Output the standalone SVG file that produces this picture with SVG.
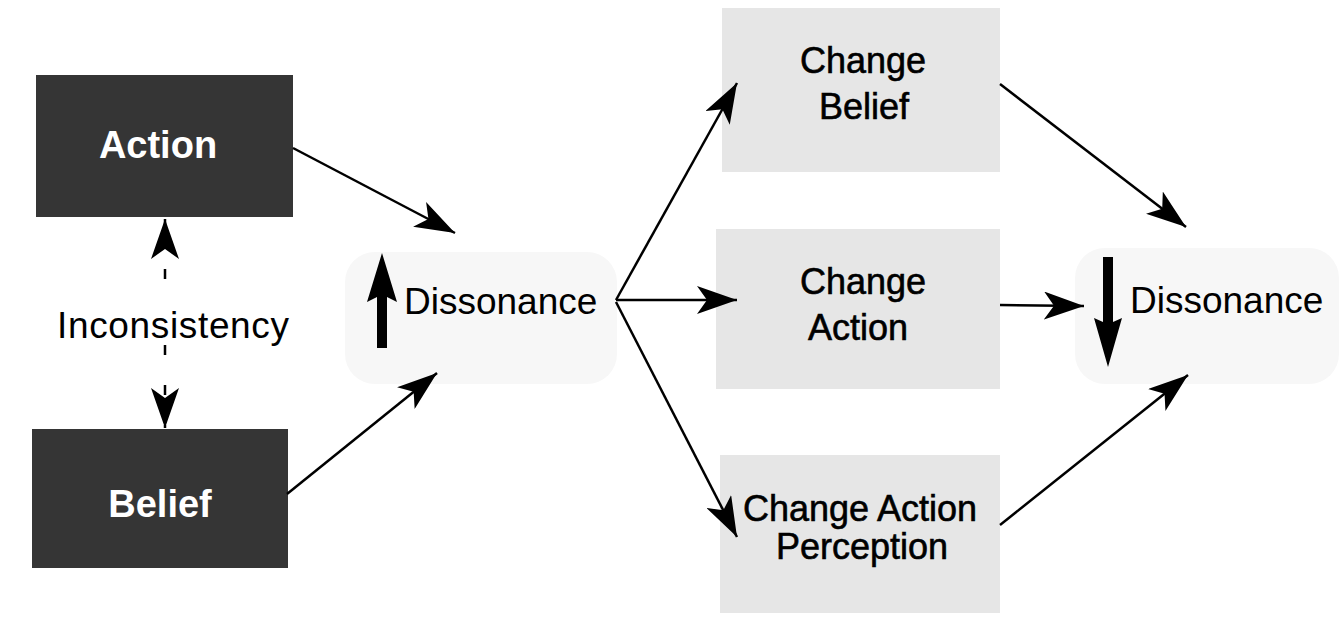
<svg xmlns="http://www.w3.org/2000/svg" width="1339" height="621" viewBox="0 0 1339 621">
<style>
.dark{fill:#353535}
.light{fill:#e6e6e6}
.faint{fill:#f7f7f7}
.wt{font-family:"Liberation Sans",Arial,sans-serif;font-weight:bold;font-size:38px;fill:#ffffff;text-anchor:middle}
.bt{font-family:"Liberation Sans",Arial,sans-serif;font-size:36px;fill:#000;text-anchor:middle;stroke:#000;stroke-width:0.6}
.dt{font-family:"Liberation Sans",Arial,sans-serif;font-size:37px;fill:#000}
.con{stroke:#000;stroke-width:2.5;fill:none;marker-end:url(#ah)}
.thick{fill:#000}
</style>
<defs>
<marker id="ah" viewBox="0 0 40 28" refX="40" refY="14" markerWidth="40" markerHeight="28" markerUnits="userSpaceOnUse" orient="auto-start-reverse">
<path d="M0,0 L40,14 L0,28 L10,14 z" fill="#000"/>
</marker>
</defs>
<rect width="1339" height="621" fill="#fff"/>

<g id="action">
<rect class="dark" x="36" y="75" width="257" height="142"/>
<text class="wt" x="158" y="158">Action</text>
</g>

<g id="belief">
<rect class="dark" x="32" y="429" width="256" height="139"/>
<text class="wt" x="160" y="517">Belief</text>
</g>

<g id="dissonance1">
<rect class="faint" x="345" y="252" width="272" height="132" rx="30"/>
<polygon class="thick" points="382,253 397,302 387,297 387,348 377,348 377,297 367,302"/>
<text class="dt" x="404" y="314">Dissonance</text>
</g>

<g id="change-belief">
<rect class="light" x="722" y="8" width="278" height="164"/>
<text class="bt" x="863" y="73">Change</text>
<text class="bt" x="864" y="119">Belief</text>
</g>

<g id="change-action">
<rect class="light" x="716" y="229" width="284" height="160"/>
<text class="bt" x="863" y="294">Change</text>
<text class="bt" x="858" y="340">Action</text>
</g>

<g id="change-perception">
<rect class="light" x="720" y="455" width="280" height="158"/>
<text class="bt" x="860" y="521">Change Action</text>
<text class="bt" x="862" y="559">Perception</text>
</g>

<g id="dissonance2">
<rect class="faint" x="1075" y="248" width="264" height="136" rx="30"/>
<polygon class="thick" points="1108,367 1094,318 1103,322 1103,257 1113,257 1113,322 1122,318"/>
<text class="dt" x="1130" y="313">Dissonance</text>
</g>

<g id="connectors">
<line x1="165" y1="219" x2="165" y2="300" stroke="#000" stroke-width="2.5" stroke-dasharray="10 40" marker-start="url(#ah)"/>
<line x1="165" y1="345" x2="165" y2="428" stroke="#000" stroke-width="2.5" stroke-dasharray="10 30" marker-end="url(#ah)"/>
<rect x="55" y="303" width="240" height="42" fill="#fff"/>
<text x="57" y="338" font-family="Liberation Sans,Arial,sans-serif" font-size="37" fill="#000" textLength="232">Inconsistency</text>
<line class="con" x1="293" y1="148" x2="455" y2="233"/>
<line class="con" x1="287" y1="494" x2="437" y2="373"/>
<line class="con" x1="616" y1="300" x2="737" y2="83"/>
<line class="con" x1="616" y1="300" x2="737" y2="300"/>
<line class="con" x1="616" y1="302" x2="737" y2="537"/>
<line class="con" x1="1000" y1="84" x2="1186" y2="227"/>
<line class="con" x1="1000" y1="305" x2="1084" y2="306"/>
<line class="con" x1="1000" y1="525" x2="1188" y2="375"/>
</g>
</svg>
